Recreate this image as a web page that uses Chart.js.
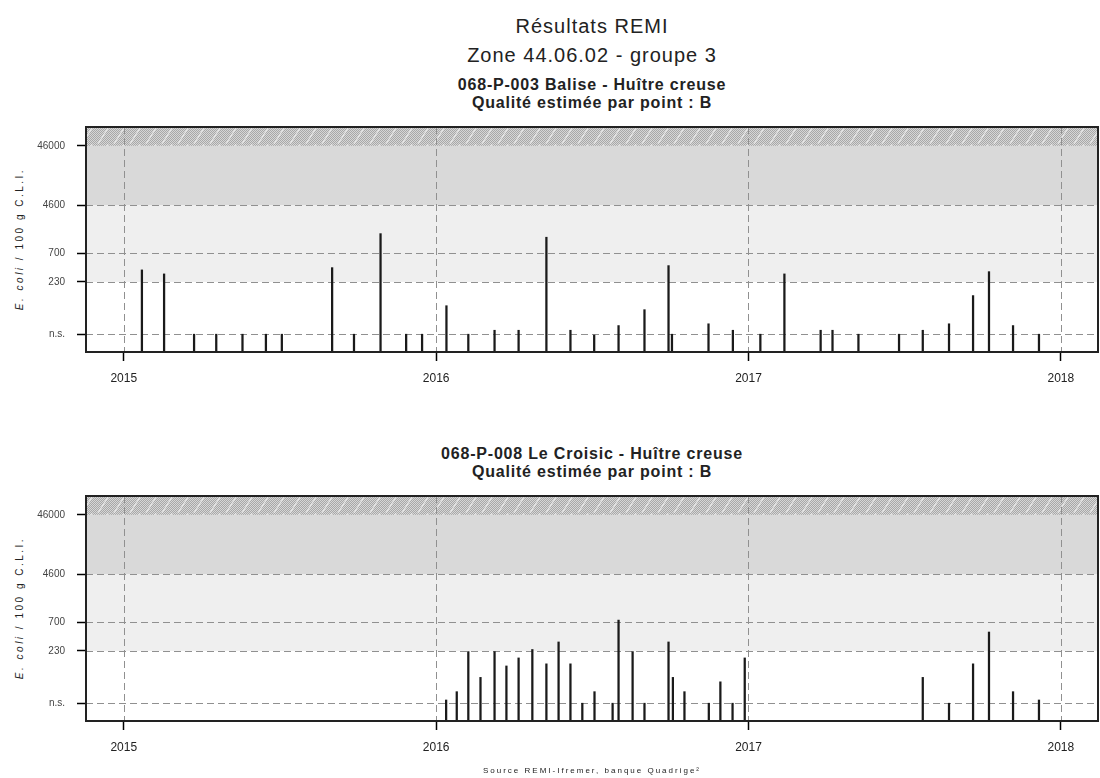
<!DOCTYPE html>
<html>
<head>
<meta charset="utf-8">
<script src="https://cdn.jsdelivr.net/npm/chart.js"></script>
<style>
  body { margin: 0; background: #fff; }
  #container { position: relative; width: 1100px; height: 778px; overflow: hidden;
    font-family: 'Liberation Sans', Arial, sans-serif; color: #222; }
  .panel { position: absolute; left: 0; width: 1100px; height: 395px; }
  .t { position: absolute; left: 86px; width: 1012px; text-align: center; white-space: nowrap; }
  .main { font-size: 20px; line-height: 20px; letter-spacing: 1px; }
  .sub { font-size: 16px; line-height: 16px; font-weight: bold; letter-spacing: 0.8px; }
  .ytitle { position: absolute; left: -80px; width: 200px; height: 14px; line-height: 14px;
    font-size: 10px; letter-spacing: 2.5px; text-align: center; white-space: nowrap;
    transform: rotate(-90deg); }
  .src { position: absolute; left: 86px; width: 1012px; top: 767px; font-size: 8px; line-height: 8px;
    letter-spacing: 2px; text-align: center; white-space: nowrap; }
</style>
</head>
<body>
<div id="container">
  <div class="t main" style="top:16px">Résultats REMI</div>
  <div class="t main" style="top:45px">Zone 44.06.02 - groupe 3</div>
  <div class="t sub" style="top:77px">068-P-003 Balise - Huître creuse</div>
  <div class="t sub" style="top:95px">Qualité estimée par point : B</div>
  <div class="ytitle" style="top:232px"><i>E. coli</i> / 100 g C.L.I.</div>
  <div class="panel" style="top:0"><canvas id="chart1"></canvas></div>

  <div class="t sub" style="top:446px">068-P-008 Le Croisic - Huître creuse</div>
  <div class="t sub" style="top:464px">Qualité estimée par point : B</div>
  <div class="ytitle" style="top:601px"><i>E. coli</i> / 100 g C.L.I.</div>
  <div class="panel" style="top:369px"><canvas id="chart2"></canvas></div>

  <div class="src">Source REMI-Ifremer, banque Quadrige²</div>
</div>
<script>
// axes
const yearTicks = [2015, 2016, 2017, 2018]
const yTickValues = [30, 230, 700, 4600, 46000]
const yTickLabels = ['n.s.', '230', '700', '4600', '46000']
const gridValues = [30, 230, 700, 4600]
const xMin = 2014.879, xMax = 2018.119
const yMin = 15, yMax = 96000

// 068-P-003 Balise (dates as decimal years)
const dates1 = [2015.058, 2015.129, 2015.225, 2015.296, 2015.380, 2015.455, 2015.506, 2015.667, 2015.737,
  2015.822, 2015.904, 2015.955, 2016.033, 2016.103, 2016.187, 2016.264, 2016.353, 2016.430, 2016.506,
  2016.584, 2016.667, 2016.744, 2016.755, 2016.872, 2016.950, 2017.038, 2017.115, 2017.231, 2017.269,
  2017.352, 2017.482, 2017.558, 2017.642, 2017.719, 2017.770, 2017.847, 2017.930]
const values1 = [367, 314, 30, 30, 30, 30, 30, 401, 30,
  1508, 30, 30, 91, 30, 35, 35, 1311, 35, 29,
  42, 78, 434, 30, 45, 35, 30, 314, 35, 35,
  30, 30, 35, 45, 135, 343, 42, 30]

// 068-P-008 Le Croisic
const dates2 = [2016.032, 2016.066, 2016.103, 2016.142, 2016.187, 2016.225, 2016.264, 2016.308, 2016.353,
  2016.392, 2016.430, 2016.468, 2016.507, 2016.565, 2016.584, 2016.629, 2016.667, 2016.744, 2016.758,
  2016.795, 2016.873, 2016.910, 2016.949, 2016.988, 2017.558, 2017.642, 2017.719, 2017.770, 2017.847,
  2017.930]
const values2 = [34, 47, 224, 82, 224, 128, 175, 243, 139,
  326, 139, 30, 47, 30, 764, 224, 30, 326, 82,
  47, 30, 69, 30, 175, 82, 30, 139, 480, 47,
  34]

// hatch for the top zone
const hatch = document.createElement('canvas')
hatch.width = 16
hatch.height = 16
{
  const g = hatch.getContext('2d')
  g.fillStyle = '#d6d6d6'
  g.fillRect(0, 0, 16, 16)
  g.fillStyle = '#a8a8a8'
  for (let i = 0; i < 16; i++)
    for (let j = 0; j < 16; j++)
      if ((i + j) % 2 === 0) g.fillRect(i, j, 1, 1)
  g.strokeStyle = '#e8e8e8'
  g.lineWidth = 1.2
  g.beginPath()
  g.moveTo(2, 16); g.lineTo(12, 0)
  g.stroke()
}

const bands = {
  id: 'bands',
  beforeDatasetsDraw(chart) {
    const {ctx, chartArea: a, scales: {x, y}} = chart
    ctx.save()
    const band = (lo, hi, style) => {
      const top = y.getPixelForValue(hi), bot = y.getPixelForValue(lo)
      ctx.fillStyle = style
      ctx.fillRect(a.left, top, a.right - a.left, bot - top)
    }
    band(230, 4600, '#efefef')
    band(4600, 46000, '#d9d9d9')
    band(46000, yMax, ctx.createPattern(hatch, 'repeat'))

    ctx.strokeStyle = '#909090'
    ctx.lineWidth = 1
    ctx.setLineDash([7, 4])
    ctx.beginPath()
    gridValues.forEach(v => {
      const py = Math.round(y.getPixelForValue(v)) + 0.5
      ctx.moveTo(a.left, py); ctx.lineTo(a.right, py)
    })
    yearTicks.forEach(v => {
      const px = Math.round(x.getPixelForValue(v)) + 0.5
      ctx.moveTo(px, a.top); ctx.lineTo(px, a.bottom)
    })
    ctx.stroke()
    ctx.restore()
  },
  afterDatasetsDraw(chart) {
    const {ctx, chartArea: a} = chart
    ctx.save()
    ctx.strokeStyle = '#222'
    ctx.lineWidth = 2
    ctx.strokeRect(a.left, a.top, a.right - a.left, a.bottom - a.top)
    ctx.restore()
  }
}

function makeChart(id, dates, values) {
  return new Chart(document.getElementById(id), {
    type: 'bar',
    data: {
      datasets: [{
        data: dates.map((d, i) => ({x: d, y: values[i]})),
        backgroundColor: '#1a1a1a',
        barThickness: 1.6
      }]
    },
    options: {
      animation: false,
      responsive: true,
      maintainAspectRatio: false,
      layout: {padding: {top: 127, right: 2, bottom: 0, left: 0}},
      plugins: {legend: {display: false}, tooltip: {enabled: false}},
      scales: {
        x: {
          type: 'linear', min: xMin, max: xMax, offset: false,
          grid: {offset: false, drawOnChartArea: false, color: '#000', tickLength: 9, tickWidth: 1.5},
          border: {display: false},
          afterBuildTicks: s => { s.ticks = yearTicks.map(v => ({value: v})) },
          afterFit: s => { s.height = 43 },
          ticks: {
            callback: v => String(v), color: '#222', padding: 10, maxRotation: 0, autoSkip: false,
            font: {family: "'Liberation Sans', Arial, sans-serif", size: 12}
          }
        },
        y: {
          type: 'logarithmic', min: yMin, max: yMax,
          grid: {drawOnChartArea: false, color: '#000', tickLength: 9, tickWidth: 1.5},
          border: {display: false},
          afterBuildTicks: s => { s.ticks = yTickValues.map(v => ({value: v})) },
          afterFit: s => { s.width = 86 },
          ticks: {
            callback: v => yTickLabels[yTickValues.indexOf(v)], color: '#444', padding: 12, autoSkip: false,
            font: {family: "'Liberation Sans', Arial, sans-serif", size: 10}
          }
        }
      }
    },
    plugins: [bands]
  })
}

makeChart('chart1', dates1, values1)
makeChart('chart2', dates2, values2)
</script>
</body>
</html>
